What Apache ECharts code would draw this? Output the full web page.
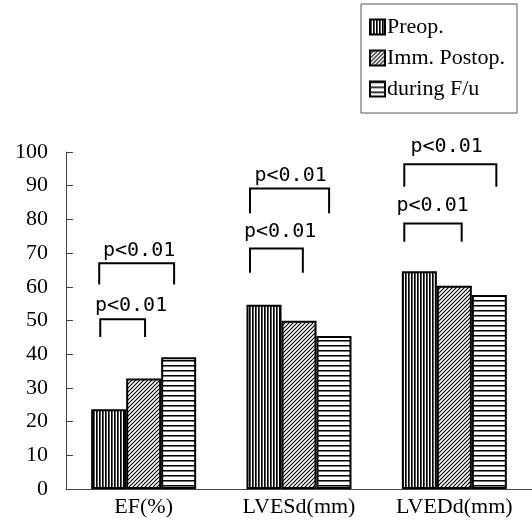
<!DOCTYPE html>
<html>
<head>
<meta charset="utf-8">
<script src="https://cdn.jsdelivr.net/npm/echarts@6/dist/echarts.min.js"></script>
<style>
html,body{margin:0;padding:0;background:#fff;}
#chart{width:532px;height:523px;}
</style>
</head>
<body>
<div id="chart"></div>
<script>
// ---- data ----
var categories = ['EF(%)', 'LVESd(mm)', 'LVEDd(mm)'];
var seriesNames = ['Preop.', 'Imm. Postop.', 'during F/u'];
var preop = [23.7, 54.7, 64.6];
var immPostop = [32.8, 49.9, 60.3];
var duringFu = [39.1, 45.4, 57.6];
var yTicks = [0, 10, 20, 30, 40, 50, 60, 70, 80, 90, 100];
// significance brackets: category index, bracket top value, leg end value, label value,
// start / end / label-centre position in bar slots relative to the category centre
var sigCat = [0, 0, 1, 1, 2, 2];
var sigTop = [50.4, 67.0, 71.4, 89.2, 78.8, 96.4];
var sigLeg = [45.1, 60.7, 64.2, 81.8, 73.4, 89.7];
var sigLabelY = [54.4, 70.6, 76.3, 93.0, 84.0, 101.4];
var sigStart = [-1.24, -1.27, -1.40, -1.40, -1.43, -1.43];
var sigEnd = [0.04, 0.87, 0.11, 0.86, 0.21, 1.20];
var sigLabelX = [-0.36, -0.13, -0.54, -0.24, -0.62, -0.22];
var sigText = ['p<0.01', 'p<0.01', 'p<0.01', 'p<0.01', 'p<0.01', 'p<0.01'];

// ---- patterns ----
function pat(kind) {
  var c = document.createElement('canvas');
  var g;
  if (kind === 'v') {
    c.width = 3; c.height = 1; g = c.getContext('2d');
    g.fillStyle = '#fff'; g.fillRect(0, 0, 3, 1);
    g.fillStyle = '#000'; g.fillRect(0, 0, 1, 1);
    g.fillStyle = '#555'; g.fillRect(1, 0, 1, 1);
  } else if (kind === 'd') {
    c.width = 4; c.height = 4; g = c.getContext('2d');
    g.fillStyle = '#fff'; g.fillRect(0, 0, 4, 4);
    g.strokeStyle = '#000'; g.lineWidth = 1.1;
    g.beginPath();
    g.moveTo(-1, 5); g.lineTo(5, -1);
    g.moveTo(-1, 1); g.lineTo(1, -1);
    g.moveTo(3, 5); g.lineTo(5, 3);
    g.stroke();
  } else {
    c.width = 1; c.height = 5; g = c.getContext('2d');
    g.fillStyle = '#fff'; g.fillRect(0, 0, 1, 5);
    g.fillStyle = '#000'; g.fillRect(0, 0, 1, 1);
    g.fillStyle = '#777'; g.fillRect(0, 1, 1, 1);
  }
  return { image: c, repeat: 'repeat' };
}
var fills = [pat('v'), pat('d'), pat('h')];

var BAR_W = 35;
var serifFont = '"Liberation Serif", "Times New Roman", serif';

var sigData = sigCat.map(function (c, i) {
  return [c, sigTop[i], sigLeg[i], sigLabelY[i], sigStart[i], sigEnd[i], sigLabelX[i], sigText[i]];
});

function barSeries(name, data, idx) {
  return {
    name: name,
    type: 'bar',
    data: data,
    barWidth: BAR_W,
    barGap: '0%',
    itemStyle: { color: fills[idx], borderColor: '#000', borderWidth: 2 },
    emphasis: { disabled: true },
    animation: false
  };
}

var chart = echarts.init(document.getElementById('chart'), null, { renderer: 'canvas' });
chart.setOption({
  backgroundColor: '#fff',
  animation: false,
  legend: {
    data: seriesNames.map(function (n) { return { name: n, icon: 'rect' }; }),
    orient: 'vertical',
    left: 361,
    top: 4,
    width: 161,
    padding: [12, 12, 13, 8],
    itemGap: 9,
    itemWidth: 15,
    itemHeight: 15,
    borderColor: '#555',
    borderWidth: 1,
    selectedMode: false,
    textStyle: { fontFamily: serifFont, fontSize: 22, color: '#000', padding: [0, 0, 0, -3] }
  },
  grid: { left: 66, top: 152, width: 468, height: 337, containLabel: false },
  xAxis: {
    type: 'category',
    data: categories,
    axisLine: { lineStyle: { color: '#444', width: 1 } },
    axisTick: { inside: true, length: 6, lineStyle: { color: '#444' } },
    axisLabel: { fontFamily: serifFont, fontSize: 22, color: '#000', margin: 7 }
  },
  yAxis: {
    type: 'value',
    min: yTicks[0],
    max: yTicks[yTicks.length - 1],
    interval: yTicks[1] - yTicks[0],
    splitLine: { show: false },
    axisLine: { show: true, lineStyle: { color: '#444', width: 1 } },
    axisTick: { show: true, inside: true, length: 7, lineStyle: { color: '#444' } },
    axisLabel: { fontFamily: serifFont, fontSize: 22, color: '#000', margin: 18 }
  },
  series: [
    barSeries(seriesNames[0], preop, 0),
    barSeries(seriesNames[1], immPostop, 1),
    barSeries(seriesNames[2], duringFu, 2),
    {
      type: 'custom',
      name: 'sig',
      data: sigData,
      encode: { x: 0, y: 1 },
      clip: false,
      silent: true,
      z: 5,
      renderItem: function (params, api) {
        var cat = api.value(0);
        var centre = api.coord([cat, 0])[0];
        var yTop = api.coord([cat, api.value(1)])[1];
        var yLeg = api.coord([cat, api.value(2)])[1];
        var yLab = api.coord([cat, api.value(3)])[1];
        var x0 = centre + api.value(4) * BAR_W;
        var x1 = centre + api.value(5) * BAR_W;
        var xl = centre + api.value(6) * BAR_W;
        var txt = sigData[params.dataIndex][7];
        return {
          type: 'group',
          children: [
            {
              type: 'polyline',
              shape: { points: [[x0, yLeg], [x0, yTop], [x1, yTop], [x1, yLeg]] },
              style: { stroke: '#000', lineWidth: 2, fill: null }
            },
            {
              type: 'text',
              x: xl, y: yLab,
              style: {
                text: txt,
                fontFamily: '"DejaVu Sans Mono", monospace',
                fontSize: 20,
                fill: '#000',
                align: 'center',
                verticalAlign: 'middle'
              }
            }
          ]
        };
      }
    }
  ]
});
</script>
</body>
</html>
